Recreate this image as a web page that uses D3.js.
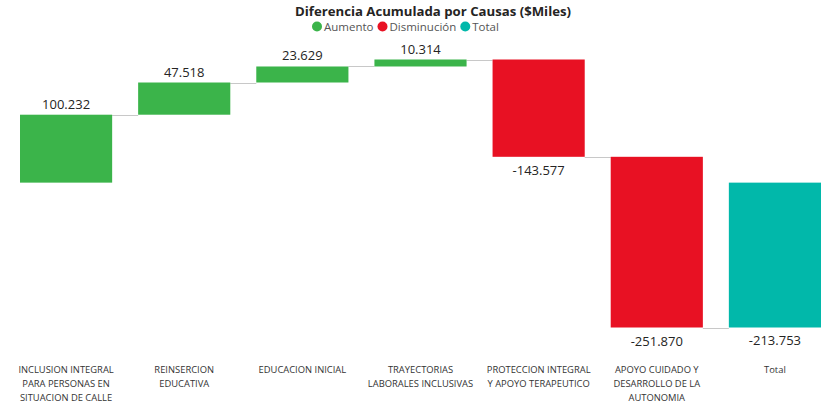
<!DOCTYPE html>
<meta charset="utf-8">
<style>
body { margin: 0; background: #fff; }
svg { font-family: "Open Sans", "Noto Sans", sans-serif; }
.title { font-size: 13.2px; font-weight: bold; fill: #252423; }
.legend text { font-size: 11.5px; fill: #555; }
.val { font-size: 13px; fill: #252423; text-anchor: middle; }
.cat { font-size: 9.4px; fill: #333; text-anchor: middle; }
.conn { stroke: #c8c8c8; stroke-width: 1; }
</style>
<body>
<svg width="828" height="404"></svg>
<script src="https://cdn.jsdelivr.net/npm/d3@7"></script>
<script>

var categories = ["INCLUSION INTEGRAL PARA PERSONAS EN SITUACION DE CALLE",
  "REINSERCION EDUCATIVA", "EDUCACION INICIAL", "TRAYECTORIAS LABORALES INCLUSIVAS",
  "PROTECCION INTEGRAL Y APOYO TERAPEUTICO", "APOYO CUIDADO Y DESARROLLO DE LA AUTONOMIA", "Total"];
// tick labels as they wrap in the picture
var catLines = [
  ["INCLUSION INTEGRAL", "PARA PERSONAS EN", "SITUACION DE CALLE"],
  ["REINSERCION", "EDUCATIVA"],
  ["EDUCACION INICIAL"],
  ["TRAYECTORIAS", "LABORALES INCLUSIVAS"],
  ["PROTECCION INTEGRAL", "Y APOYO TERAPEUTICO"],
  ["APOYO CUIDADO Y", "DESARROLLO DE LA", "AUTONOMIA"],
  ["Total"]
];
var values = [100.232, 47.518, 23.629, 10.314, -143.577, -251.870, -213.753];
var kinds = ["Aumento", "Aumento", "Aumento", "Aumento", "Disminución", "Disminución", "Total"];
var legendNames = ["Aumento", "Disminución", "Total"];
var legendColors = ["#3bb44a", "#e81123", "#01b8aa"];

var svg = d3.select("svg"),
    width = +svg.attr("width"),
    height = +svg.attr("height");

var color = d3.scaleOrdinal().domain(legendNames).range(legendColors);
var fmt = function(v) { return (v < 0 ? "-" : "") + d3.format(".3f")(Math.abs(v)); };

// running totals
var rows = [], run = 0;
values.forEach(function(v, i) {
  if (kinds[i] == "Total") {
    rows.push({i: i, cat: categories[i], v: v, y0: 0, y1: v, kind: kinds[i]});
  } else {
    rows.push({i: i, cat: categories[i], v: v, y0: run, y1: run + v, kind: kinds[i]});
    run += v;
  }
});

var x = d3.scaleBand()
    .domain(categories)
    .range([20, 821])
    .paddingInner(0.22)
    .paddingOuter(0);

var lo = d3.min(rows, function(d) { return Math.min(d.y0, d.y1); }),
    hi = d3.max(rows, function(d) { return Math.max(d.y0, d.y1); });
var y = d3.scaleLinear()
    .domain([lo, hi])
    .range([327.5, 59.5]);

// title
svg.append("text")
    .attr("class", "title")
    .attr("x", 433)
    .attr("y", 16)
    .attr("text-anchor", "middle")
    .text("Diferencia Acumulada por Causas ($Miles)");

var legend = svg.append("g").attr("class", "legend");
var lx = 312;
legendNames.forEach(function(n, i) {
  var g = legend.append("g").attr("transform", "translate(" + lx + ",26.5)");
  g.append("circle").attr("cx", 5).attr("cy", 0).attr("r", 5).attr("fill", color(n));
  var t = g.append("text").attr("x", 12).attr("dy", "0.35em").text(n);
  lx += 12 + t.node().getComputedTextLength() + 4;
});

// connectors
svg.append("g").selectAll("line")
    .data(rows.slice(0, rows.length - 1))
  .enter().append("line")
    .attr("class", "conn")
    .attr("x1", function(d) { return x(d.cat) + x.bandwidth(); })
    .attr("x2", function(d, i) { return x(rows[i + 1].cat); })
    .attr("y1", function(d) { return Math.round(y(d.y1)) + 0.5; })
    .attr("y2", function(d) { return Math.round(y(d.y1)) + 0.5; });

svg.append("g").selectAll("rect")
    .data(rows)
  .enter().append("rect")
    .attr("x", function(d) { return x(d.cat); })
    .attr("width", x.bandwidth())
    .attr("y", function(d) { return y(Math.max(d.y0, d.y1)); })
    .attr("height", function(d) { return Math.abs(y(d.y0) - y(d.y1)); })
    .attr("fill", function(d) { return color(d.kind); });

svg.append("g").selectAll("text")
    .data(rows)
  .enter().append("text")
    .attr("class", "val")
    .attr("x", function(d) { return x(d.cat) + x.bandwidth() / 2; })
    .attr("y", function(d) {
      return d.v >= 0 ? y(Math.max(d.y0, d.y1)) - 6 : y(Math.min(d.y0, d.y1)) + 18;
    })
    .text(function(d) { return fmt(d.v); });

// category labels
svg.append("g").selectAll("text")
    .data(categories)
  .enter().append("text")
    .attr("class", "cat")
    .attr("x", function(d) { return x(d) + x.bandwidth() / 2; })
    .attr("y", 372.5)
    .each(function(d, i) {
      var el = d3.select(this), cx = el.attr("x");
      catLines[i].forEach(function(l, j) {
        el.append("tspan").attr("x", cx).attr("dy", j ? 14.3 : 0).text(l);
      });
    });

</script>
</body>
